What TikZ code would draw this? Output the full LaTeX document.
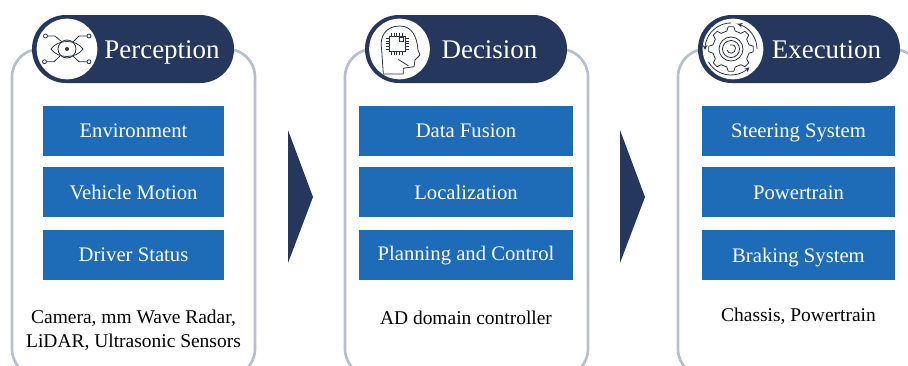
\documentclass[tikz,border=0pt]{standalone}
\usepackage{fontspec}
\setmainfont{Liberation Serif}
\definecolor{navy}{HTML}{25375C}
\definecolor{boxblue}{HTML}{1E6BB8}
\definecolor{panelgray}{HTML}{B8BFCC}
\definecolor{icongray}{HTML}{2B3446}
\tikzset{
	panelbox/.style={draw=panelgray, line width=2pt, fill=white, rounded corners=21pt, minimum width=182.25pt, minimum height=246pt, outer sep=0pt},
	pill/.style={fill=navy, rounded corners=25.4pt, minimum width=151.5pt, minimum height=51pt, inner sep=0pt, outer sep=0pt},
	iconback/.style={circle, fill=white, minimum size=45.5pt, inner sep=0pt, outer sep=0pt},
	pilltext/.style={text=white, text height=19pt, text depth=5pt, font=\fontsize{20.2}{22}\selectfont, inner sep=0pt},
	bluebox/.style={fill=boxblue, text=white, minimum height=37.5pt, text height=12pt, text depth=3pt, inner sep=0pt, outer sep=0pt, font=\fontsize{15.5}{18}\selectfont},
	sensortext/.style={align=center, text=black, inner sep=0pt, font=\fontsize{14.6}{18}\selectfont},
	iconline/.style={draw=icongray, line width=0.6pt},
	stage/.style={fill=navy, draw=none}
}
\begin{document}
\begin{tikzpicture}[x=0.75pt,y=-0.75pt]
	\useasboundingbox (0,0) rectangle (908,365);
	\clip (0,0) rectangle (908,365);
	% panels
	\node [panelbox] (perceptionpanel) at (133.5,213) {};
	\node [panelbox] (decisionpanel) at (466.5,213) {};
	\node [panelbox] (executionpanel) at (799.5,213) {};
	% headers
	\node [pill] (perceptionpill) at (133,49) {};
	\node [pill] (decisionpill) at (466,49) {};
	\node [pill] (executionpill) at (799,49) {};
	\node [iconback] (eyeicon) at (67,49) {};
	\node [iconback] (headicon) at (399.5,49) {};
	\node [iconback] (gearicon) at (733,49) {};
	\node [pilltext] (perceptionlabel) at (162,49) {Perception};
	\node [pilltext] (decisionlabel) at (489.5,49) {Decision};
	\node [pilltext] (executionlabel) at (826.5,49) {Execution};
	% first column
	\node [bluebox, minimum width=135.75pt] (environment) at (133.5,131) {Environment};
	\node [bluebox, minimum width=135.75pt] (motion) at (133.5,192) {\raisebox{-0.75pt}{Vehicle Motion}};
	\node [bluebox, minimum width=135.75pt] (driver) at (133.5,255) {Driver Status};
	\node [sensortext] (sensors) at (133.5,330) {Camera, mm Wave Radar,\\LiDAR, Ultrasonic Sensors};
	% second column
	\node [bluebox, minimum width=160.5pt] (fusion) at (466,131) {Data Fusion};
	\node [bluebox, minimum width=160.5pt] (localization) at (466,192) {\raisebox{-0.75pt}{Localization}};
	\node [bluebox, minimum width=160.5pt] (planning) at (466,255) {\raisebox{0.75pt}{Planning and Control}};
	\node [sensortext, anchor=base] (controller) at (466,324) {AD domain controller};
	% third column
	\node [bluebox, minimum width=144.75pt] (steering) at (798.5,131) {Steering System};
	\node [bluebox, minimum width=144.75pt] (powertrain) at (798.5,192) {\raisebox{-0.75pt}{Powertrain}};
	\node [bluebox, minimum width=144.75pt] (braking) at (798.5,255) {\raisebox{-0.75pt}{Braking System}};
	\node [sensortext, anchor=base] (chassis) at (798.5,321) {Chassis, Powertrain};
	% arrows between the stages
	\fill [stage] (288,130) -- (313,197) -- (288,263) -- cycle;
	\fill [stage] (620,130) -- (645,197) -- (620,263) -- cycle;
	% eye
	\draw [iconline] (51,49) .. controls (58,39) and (76,39) .. (83,49) .. controls (76,59) and (58,59) .. (51,49) -- cycle;
	\draw [iconline] (67,49) circle [radius=9];
	\fill [icongray] (67,49) circle [radius=2];
	\draw [iconline] (47.5,36) -- (55,36) -- (62,42);
	\draw [iconline] (87,36) -- (79,36) -- (73,42);
	\draw [iconline] (46.5,61.7) -- (54,61.7) -- (60,56);
	\draw [iconline] (87,61.7) -- (79,61.7) -- (73,56);
	\foreach \cx/\cy in {45.5/36,89/36,44.5/61.7,89/61.7}
		\draw [iconline] (\cx,\cy) circle [radius=2];
	% head
	\draw [iconline] (383.3,74) -- (381.7,50) .. controls (379,36) and (386,26) .. (400,26) .. controls (412,26) and (417,37) .. (418,50) -- (420,55) -- (415,60) -- (414,66.7) -- (403.3,68.3) -- (403.3,74) -- cycle;
	\draw [iconline] (398,59.3) -- (408.3,65.7);
	\draw [iconline] (389,36) rectangle (405,51);
	\draw [iconline] (399,37) rectangle (403,41);
	\foreach \k in {0,1,2,3,4}{
		\draw [iconline, line width=0.4pt] (391+2.8*\k,32.5) -- (391+2.8*\k,36);
		\draw [iconline, line width=0.4pt] (391+2.8*\k,51) -- (391+2.8*\k,54.5);
		\draw [iconline, line width=0.4pt] (385.5,38+2.8*\k) -- (389,38+2.8*\k);
		\draw [iconline, line width=0.4pt] (405,38+2.8*\k) -- (408.5,38+2.8*\k);
	}
	% gear
	\foreach \a in {0,45,...,315}{
		\draw [iconline] ([shift={(731,49)}]\a+7:22.5) -- ([shift={(731,49)}]\a+13:18.5)
			-- ([shift={(731,49)}]\a+32:18.5) -- ([shift={(731,49)}]\a+38:22.5) -- ([shift={(731,49)}]\a+52:22.5);
	}
	\draw [iconline] (731,49) circle [radius=12];
	\draw [iconline] (731,49) circle [radius=8.5];
	\draw [iconline] (727,50) .. controls (728,55) and (736,54) .. (735.5,48) .. controls (735,45) and (732,44) .. (730,45);
	\draw [iconline, -stealth] plot [smooth, domain=270:178, samples=12] ({731+26*cos(\x)},{49+26*sin(\x)});
	\draw [iconline, -stealth] plot [smooth, domain=0:-75, samples=12] ({731+26*cos(\x)},{49+26*sin(\x)});
	\draw [iconline, -stealth] plot [smooth, domain=150:45, samples=12] ({731+26*cos(\x)},{49+26*sin(\x)});
\end{tikzpicture}
\end{document}
